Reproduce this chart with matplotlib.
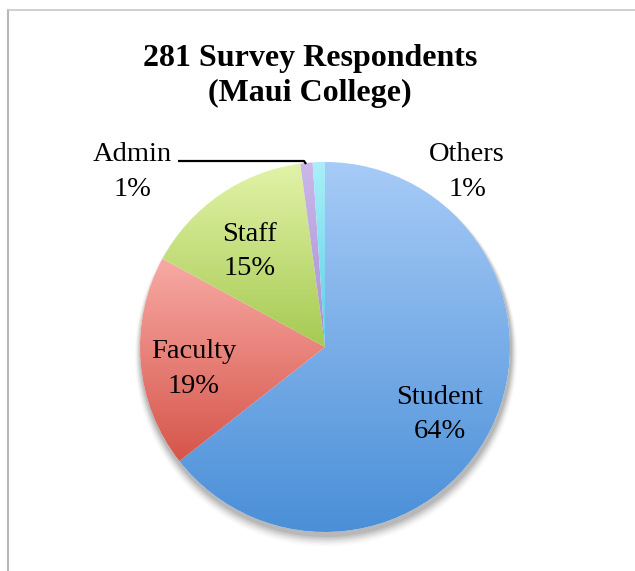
import matplotlib
matplotlib.use("Agg")
import matplotlib.pyplot as plt
import numpy as np
from matplotlib.colors import LinearSegmentedColormap
from matplotlib.patches import Circle
from matplotlib.lines import Line2D

# data (counts out of 281 respondents)
categories = ["Student", "Faculty", "Staff", "Admin", "Others"]
counts = [181, 52, 42, 3, 3]
pct_labels = ["64%", "19%", "15%", "1%", "1%"]

# gradient colours per slice: (top, bottom)
grad_colors = [
    ("#a7cbf7", "#4a8fd8"),
    ("#f8aaa5", "#d6554a"),
    ("#e2f3a8", "#a6ca52"),
    ("#cbb8ea", "#a88fd2"),
    ("#aaeff9", "#5ccfe6"),
]

W, H = 635, 571
fig = plt.figure(figsize=(W / 100, H / 100), dpi=100)
ax = fig.add_axes([0, 0, 1, 1])
ax.set_xlim(0, W)
ax.set_ylim(0, H)
ax.set_aspect("equal")
ax.axis("off")

cx, cy, R = 325, H - 347, 185

# soft shadow under the pie
for i, a in enumerate(np.linspace(0.07, 0.015, 7)):
    ax.add_patch(Circle((cx + 1, cy - 4 - i * 0.7), R + 1 + i * 0.9,
                        facecolor="#000000", edgecolor="none", alpha=a, zorder=1))
ax.add_patch(Circle((cx, cy), R, facecolor="white", edgecolor="none", zorder=1.5))

wedges, _ = ax.pie(counts, startangle=90, counterclock=False, center=(cx, cy),
                   radius=R, wedgeprops=dict(facecolor="none", edgecolor="none"))

grad = np.linspace(0, 1, 256).reshape(-1, 1)
for w, (c_top, c_bot) in zip(wedges, grad_colors):
    w.set_zorder(3)
    bb = w.get_path().get_extents(w.get_transform() - ax.transData)
    cmap = LinearSegmentedColormap.from_list("g", [c_top, c_bot])
    im = ax.imshow(grad, cmap=cmap, aspect="auto", origin="upper",
                   extent=[bb.x0, bb.x1, bb.y0, bb.y1], zorder=2,
                   interpolation="bilinear")
    im.set_clip_path(w)

ax.set_xlim(0, W)
ax.set_ylim(0, H)

label_font = dict(family="Liberation Serif", size=20.5, color="black",
                  ha="center", va="center", linespacing=1.5)

# inside labels for the three large slices
total = sum(counts)
start = 90.0
for i, (name, c, p) in enumerate(zip(categories, counts, pct_labels)):
    sweep = 360.0 * c / total
    mid = np.deg2rad(start - sweep / 2)
    start -= sweep
    if i < 3:
        r = 0.70 * R
        ax.text(cx + r * np.cos(mid) - 2, cy + r * np.sin(mid) - 11, f"{name}\n{p}",
                zorder=5, **label_font)

# outside labels for the tiny slices
ax.text(132, H - 172, f"{categories[3]}\n{pct_labels[3]}", zorder=5, **label_font)
ax.text(467, H - 172, f"{categories[4]}\n{pct_labels[4]}", zorder=5, **label_font)
ax.plot([178, 304, 306], [H - 161, H - 161, H - 164], color="black", lw=1.6,
        zorder=6, solid_capstyle="butt")

fig.text(310 / W, 1 - 76 / H, "281 Survey Respondents\n(Maui College)",
         family="Liberation Serif", weight="bold", size=23, ha="center",
         va="center", linespacing=1.24)

# frame lines of the chart area
fig.add_artist(Line2D([8 / W, 8 / W], [0, 1 - 10 / H], color="#b8b8b8", lw=1.5))
fig.add_artist(Line2D([8 / W, 1], [1 - 10 / H, 1 - 10 / H], color="#c8c8c8", lw=1.2))

fig.savefig("out.png", dpi=100)
